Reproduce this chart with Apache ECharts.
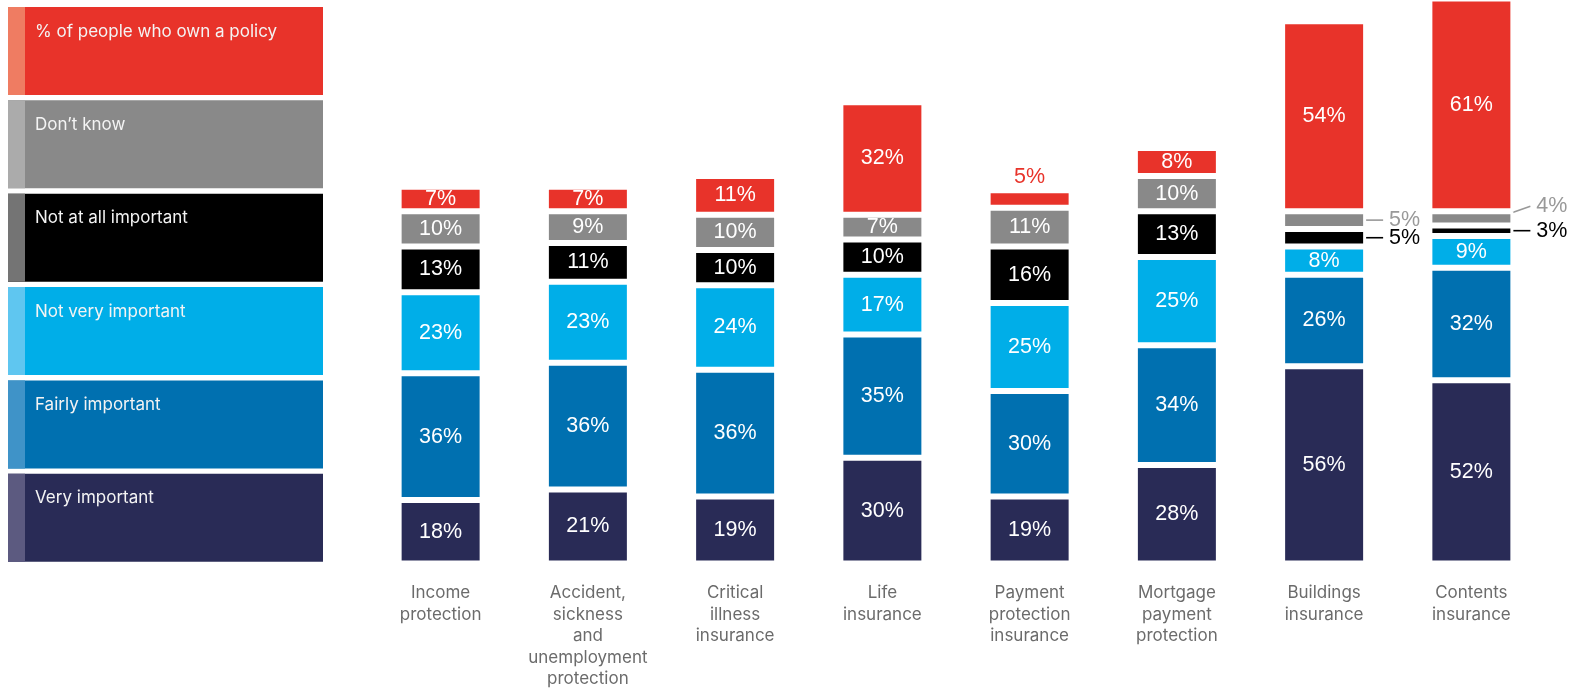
<!DOCTYPE html>
<html>
<head>
<meta charset="utf-8">
<script src="https://cdn.jsdelivr.net/npm/echarts@6/dist/echarts.min.js"></script>
<style>
  html, body { margin: 0; padding: 0; background: #fff; }
  #chart { width: 1570px; height: 690px; }
</style>
</head>
<body>
<div id="chart"></div>
<script>
// Insurance products
const categories = [
  'Income\nprotection',
  'Accident,\nsickness\nand\nunemployment\nprotection',
  'Critical\nillness\ninsurance',
  'Life\ninsurance',
  'Payment\nprotection\ninsurance',
  'Mortgage\npayment\nprotection',
  'Buildings\ninsurance',
  'Contents\ninsurance'
];

// Importance ratings (%), stacked bottom to top
const veryImportant   = [18, 21, 19, 30, 19, 28, 56, 52];
const fairlyImportant = [36, 36, 36, 35, 30, 34, 26, 32];
const notVeryImportant = [23, 23, 24, 17, 25, 25, 8, 9];
const notAtAllImportant = [13, 11, 10, 10, 16, 13, 5, 3];
const dontKnow        = [10, 9, 10, 7, 11, 10, 5, 4];
const ownPolicy       = [7, 7, 11, 32, 5, 8, 54, 61];

// Stack order (bottom first) with fill, legend strip and outside-label colours
const stack = [
  { name: 'Very important',              values: veryImportant,     color: '#292b56', strip: '#5c5a80', outside: '#292b56' },
  { name: 'Fairly important',            values: fairlyImportant,   color: '#0070b0', strip: '#3f93c8', outside: '#0070b0' },
  { name: 'Not very important',          values: notVeryImportant,  color: '#00aee8', strip: '#5fc6f0', outside: '#00aee8' },
  { name: 'Not at all important',        values: notAtAllImportant, color: '#000000', strip: '#747474', outside: '#000000' },
  { name: 'Don\u2019t know',             values: dontKnow,          color: '#898989', strip: '#ababab', outside: '#999999' },
  { name: '% of people who own a policy', values: ownPolicy,        color: '#e8332a', strip: '#ef7c62', outside: '#e8332a' }
];

const TOP = stack.length - 1;
const NUM_FONT = '"Liberation Sans", Arial, sans-serif';
const TXT_FONT = 'Inter, "Noto Sans", sans-serif';

// Segments too thin for an inside label get it outside the bar
function buildData(idx) {
  const s = stack[idx];
  return s.values.map(function (v) {
    if (v > 5) return v;
    if (idx === TOP) {
      return { value: v, label: { position: 'top', distance: 2, color: s.outside } };
    }
    return {
      value: v,
      // a leading space keeps a gap between the leader line and the figure
      label: { position: 'right', distance: 4, color: s.outside, formatter: ' {c}%' },
      labelLine: { show: true, lineStyle: { color: s.outside, width: 1.6 } }
    };
  });
}

function outsideLayout(p) {
  const i = p.seriesIndex;
  const v = stack[i].values[p.dataIndex];
  if (v > 5 || i === TOP) return {};
  const below = i > 0 ? stack[i - 1].values[p.dataIndex] : 100;
  return { dx: 13, dy: below < 5 ? -12 : 0 };
}

const series = stack.map(function (s, idx) {
  return {
    name: s.name,
    type: 'bar',
    stack: 'total',
    barWidth: 84,
    data: buildData(idx),
    itemStyle: { color: s.color, borderColor: '#ffffff', borderWidth: 3 },
    label: {
      show: true,
      position: 'inside',
      formatter: '{c}%',
      color: '#ffffff',
      fontFamily: NUM_FONT,
      fontSize: 21.5
    },
    labelLayout: outsideLayout,
    emphasis: { disabled: true },
    animation: false
  };
});

// Legend drawn as stacked colour blocks, top item first
const legendItems = stack.slice().reverse();
const LEG_TOP = 7, LEG_STEP = 93.35, LEG_H = 88, LEG_X = 8, LEG_W = 315, STRIP_W = 17;
const graphic = [];
legendItems.forEach(function (s, k) {
  const y = LEG_TOP + k * LEG_STEP;
  graphic.push({ type: 'rect', left: LEG_X, top: y, shape: { width: LEG_W, height: LEG_H }, style: { fill: s.color }, silent: true });
  graphic.push({ type: 'rect', left: LEG_X, top: y, shape: { width: STRIP_W, height: LEG_H }, style: { fill: s.strip }, silent: true });
  graphic.push({
    type: 'text', left: 35, top: y + 16,
    style: { text: s.name, fill: '#f4f4f4', font: '17px ' + TXT_FONT },
    silent: true
  });
});

const chart = echarts.init(document.getElementById('chart'), null, { renderer: 'canvas' });
chart.setOption({
  animation: false,
  grid: { left: 367, right: 25, top: 0, bottom: 126.5, containLabel: false },
  xAxis: {
    type: 'category',
    data: categories,
    axisLine: { show: false },
    axisTick: { show: false },
    axisLabel: {
      interval: 0,
      margin: 19,
      verticalAlign: 'top',
      color: '#6b6b6b',
      fontFamily: TXT_FONT,
      fontSize: 17,
      lineHeight: 21.5
    }
  },
  yAxis: {
    type: 'value',
    min: 0,
    max: 160,
    show: false,
    splitLine: { show: false }
  },
  graphic: graphic,
  series: series
});
</script>
</body>
</html>
